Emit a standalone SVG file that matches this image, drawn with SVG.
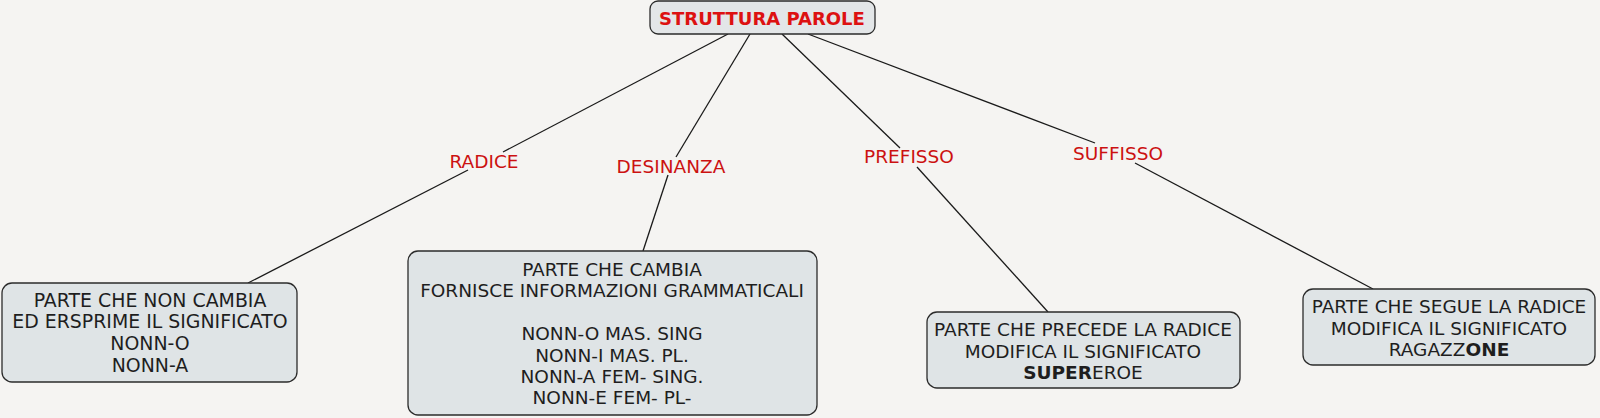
<svg xmlns="http://www.w3.org/2000/svg" width="1600" height="418" viewBox="0 0 1600 418">
<style>
.bg{fill:#f5f4f2}
.box{fill:#dfe4e6;stroke:#2b2b2b;stroke-width:1.3}
.title{fill:#e3e6e8;stroke:#2b2b2b;stroke-width:1.3}
.t{font-family:"DejaVu Sans","Verdana",sans-serif;font-size:18.5px;fill:#1e1e1e;text-anchor:middle}
.tt{font-family:"DejaVu Sans","Verdana",sans-serif;font-size:18px;font-weight:bold;fill:#dd1111;text-anchor:middle}
.lbl{font-family:"DejaVu Sans","Verdana",sans-serif;font-size:18.5px;fill:#cc1111;text-anchor:middle}
.c{stroke:#1a1a1a;stroke-width:1.3;fill:none}
</style>
<rect class="bg" x="0" y="0" width="1600" height="418"/>
<g id="connectors">
<line class="c" x1="728" y1="34" x2="503" y2="152"/>
<line class="c" x1="468" y1="170" x2="248" y2="283"/>
<line class="c" x1="750" y1="34" x2="676" y2="157"/>
<line class="c" x1="668" y1="175" x2="643" y2="251"/>
<line class="c" x1="782" y1="34" x2="900" y2="148"/>
<line class="c" x1="917" y1="167" x2="1048" y2="312"/>
<line class="c" x1="808" y1="34" x2="1095" y2="143"/>
<line class="c" x1="1135" y1="163" x2="1373" y2="289"/>
<text class="lbl" x="484" y="168">RADICE</text>
<text class="lbl" x="671" y="173">DESINANZA</text>
<text class="lbl" x="909" y="163">PREFISSO</text>
<text class="lbl" x="1118" y="160">SUFFISSO</text>
</g>
<g id="root">
<rect class="title" x="650" y="1" width="225" height="33" rx="8"/>
<text class="tt" x="762" y="25">STRUTTURA PAROLE</text>
</g>
<g id="radice">
<rect class="box" x="2" y="283" width="295" height="99" rx="10"/>
<text class="t" x="150" y="307" style="font-size:18.9px">PARTE CHE NON CAMBIA</text>
<text class="t" x="150" y="328" style="font-size:18.9px">ED ERSPRIME IL SIGNIFICATO</text>
<text class="t" x="150" y="350" style="font-size:18.9px">NONN-O</text>
<text class="t" x="150" y="372" style="font-size:18.9px">NONN-A</text>
</g>
<g id="desinanza">
<rect class="box" x="408" y="251" width="409" height="164" rx="10"/>
<text class="t" x="612" y="276">PARTE CHE CAMBIA</text>
<text class="t" x="612" y="297">FORNISCE INFORMAZIONI GRAMMATICALI</text>
<text class="t" x="612" y="340">NONN-O MAS. SING</text>
<text class="t" x="612" y="362">NONN-I MAS. PL.</text>
<text class="t" x="612" y="383">NONN-A FEM- SING.</text>
<text class="t" x="612" y="404">NONN-E FEM- PL-</text>
</g>
<g id="prefisso">
<rect class="box" x="927" y="312" width="313" height="76" rx="10"/>
<text class="t" x="1083" y="336">PARTE CHE PRECEDE LA RADICE</text>
<text class="t" x="1083" y="358">MODIFICA IL SIGNIFICATO</text>
<text class="t" x="1083" y="379"><tspan font-weight="bold">SUPER</tspan>EROE</text>
</g>
<g id="suffisso">
<rect class="box" x="1303" y="289" width="292" height="76" rx="10"/>
<text class="t" x="1449" y="313">PARTE CHE SEGUE LA RADICE</text>
<text class="t" x="1449" y="335">MODIFICA IL SIGNIFICATO</text>
<text class="t" x="1449" y="356">RAGAZZ<tspan font-weight="bold">ONE</tspan></text>
</g>
</svg>
